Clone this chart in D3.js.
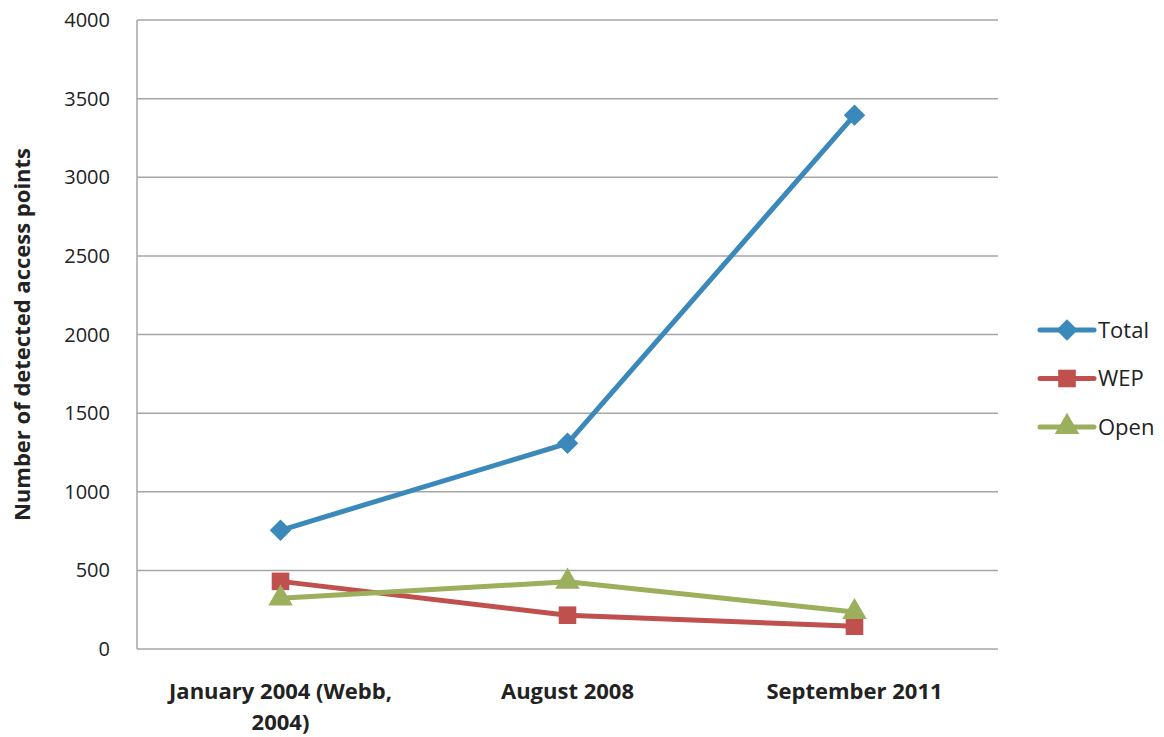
<!DOCTYPE html>
<html>
<head>
<meta charset="utf-8">
<script src="https://cdn.jsdelivr.net/npm/d3@7"></script>
<style>
  body { margin: 0; background: #fff; }
  text { font-family: "Open Sans", Lato, sans-serif; fill: #222; }
</style>
</head>
<body>
<svg id="chart" width="1164" height="737"></svg>
<script>
const categories = [["January 2004 (Webb,", "2004)"], ["August 2008"], ["September 2011"]];
const total = [755, 1308, 3395];
const wep = [430, 215, 145];
const open = [322, 428, 235];
const yTicks = [0, 500, 1000, 1500, 2000, 2500, 3000, 3500, 4000];

// diamond = square turned 45 degrees
const series = [
  { name: "Total", values: total, color: "#3A89BA", symbol: d3.symbolSquare, size: 230, rotate: 45 },
  { name: "WEP", values: wep, color: "#C0504D", symbol: d3.symbolSquare, size: 310, rotate: 0 },
  { name: "Open", values: open, color: "#9BAF5C", symbol: d3.symbolTriangle, size: 260, rotate: 0 },
];

const svg = d3.select("#chart");
const plotLeft = 137, plotRight = 998, plotTop = 20, plotBottom = 649;

const x = d3.scalePoint()
  .domain(d3.range(categories.length))
  .range([plotLeft, plotRight])
  .padding(0.5);

const y = d3.scaleLinear().domain([0, 4000]).range([plotBottom, plotTop]);

// gridlines
svg.append("g")
  .selectAll("line")
  .data(yTicks.filter((d) => d > 0))
  .join("line")
  .attr("x1", plotLeft)
  .attr("x2", plotRight)
  .attr("y1", (d) => y(d))
  .attr("y2", (d) => y(d))
  .attr("stroke", "#a6a6a6")
  .attr("stroke-width", 1.5);

// axes
svg.append("line")
  .attr("x1", plotLeft).attr("x2", plotLeft)
  .attr("y1", plotTop).attr("y2", plotBottom)
  .attr("stroke", "#a6a6a6").attr("stroke-width", 1.5);
svg.append("line")
  .attr("x1", plotLeft).attr("x2", plotRight)
  .attr("y1", plotBottom).attr("y2", plotBottom)
  .attr("stroke", "#a6a6a6").attr("stroke-width", 1.5);

// y tick labels
svg.append("g")
  .selectAll("text")
  .data(yTicks)
  .join("text")
  .attr("x", 110)
  .attr("y", (d) => y(d))
  .attr("dy", "0.35em")
  .attr("text-anchor", "end")
  .attr("font-size", 20)
  .text((d) => d);

// x labels
svg.append("g")
  .selectAll("text")
  .data(categories)
  .join("text")
  .attr("x", (d, i) => x(i))
  .attr("y", 699)
  .attr("text-anchor", "middle")
  .attr("font-size", 22)
  .attr("font-weight", "bold")
  .each(function (d) {
    d3.select(this).selectAll("tspan")
      .data(d)
      .join("tspan")
      .attr("x", d3.select(this).attr("x"))
      .attr("dy", (t, j) => (j === 0 ? 0 : 31))
      .text((t) => t);
  });

// y title
svg.append("text")
  .attr("transform", `translate(30, ${(plotTop + plotBottom) / 2}) rotate(-90)`)
  .attr("text-anchor", "middle")
  .attr("font-size", 22)
  .attr("font-weight", "bold")
  .text("Number of detected access points");

const line = d3.line()
  .x((d, i) => x(i))
  .y((d) => y(d));

series.forEach((s) => {
  svg.append("path")
    .datum(s.values)
    .attr("d", line)
    .attr("fill", "none")
    .attr("stroke", s.color)
    .attr("stroke-width", 5)
    .attr("stroke-linejoin", "round");

  svg.append("g")
    .selectAll("path")
    .data(s.values)
    .join("path")
    .attr("transform", (d, i) => `translate(${x(i)},${y(d)}) rotate(${s.rotate})`)
    .attr("d", d3.symbol(s.symbol, s.size))
    .attr("fill", s.color);
});

// legend
const legend = svg.append("g")
  .selectAll("g")
  .data(series)
  .join("g")
  .attr("transform", (d, i) => `translate(1040, ${330 + i * 48.5})`);

legend.append("line")
  .attr("x1", 0).attr("x2", 54)
  .attr("stroke", (d) => d.color)
  .attr("stroke-width", 5)
  .attr("stroke-linecap", "round");

legend.append("path")
  .attr("transform", (d) => `translate(27,0) rotate(${d.rotate})`)
  .attr("d", (d) => d3.symbol(d.symbol, d.size)())
  .attr("fill", (d) => d.color);

legend.append("text")
  .attr("x", 58)
  .attr("dy", "0.35em")
  .attr("font-size", 22)
  .text((d) => d.name);
</script>
</body>
</html>
